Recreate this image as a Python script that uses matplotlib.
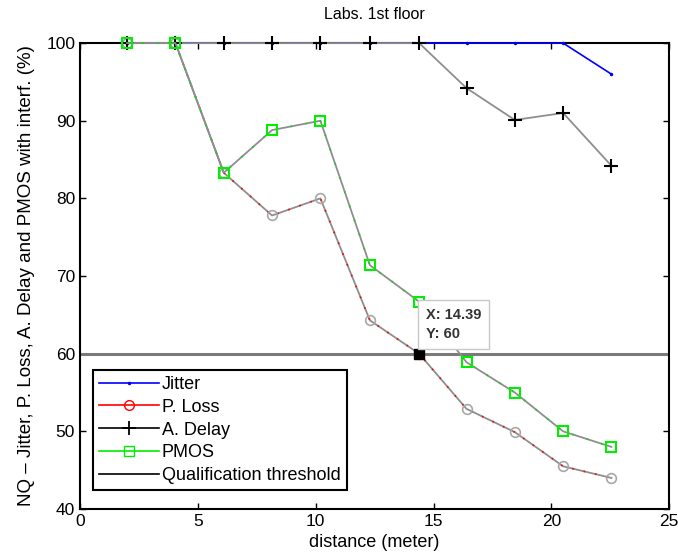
import matplotlib.pyplot as plt
from matplotlib.lines import Line2D

plt.rcParams.update({
    'font.family': ['Liberation Sans', 'DejaVu Sans'],
    'xtick.direction': 'in',
    'ytick.direction': 'in',
    'xtick.top': True,
    'ytick.right': True,
})

distance = [2.0, 4.05, 6.1, 8.15, 10.2, 12.3, 14.39, 16.4, 18.45, 20.5, 22.55]
jitter   = [100, 100, 100, 100, 100, 100, 100, 100, 100, 100, 96.0]
p_loss   = [100, 100, 83.3, 77.8, 80.0, 64.3, 60.0, 52.9, 49.9, 45.5, 44.0]
a_delay  = [100, 100, 100, 100, 100, 100, 100, 94.2, 90.1, 91.0, 84.2]
pmos     = [100, 100, 83.3, 88.8, 90.0, 71.4, 66.7, 58.9, 55.0, 50.0, 48.0]
threshold = 60
tip_x, tip_y = 14.39, 60

fig = plt.figure(figsize=(6.78, 5.56), dpi=100)
ax = fig.add_axes([0.118, 0.0845, 0.869, 0.838])

GREY = '#8e8e8e'
kw = dict(clip_on=False)

# jitter
ax.plot(distance, jitter, color='blue', lw=1.2, marker='.', markersize=3, zorder=3, **kw)
# packet loss: grey line with sparse red dots
ax.plot(distance, p_loss, color=GREY, lw=1.3, zorder=3, **kw)
ax.plot(distance, p_loss, color='red', lw=1.2, linestyle=(0, (1, 6)), zorder=3, **kw)
ax.plot(distance, p_loss, linestyle='none', marker='o', markersize=7,
        mfc='none', mec='#a8a8a8', mew=1.2, zorder=4, **kw)
# average delay
ax.plot(distance, a_delay, color=GREY, lw=1.3, zorder=4, **kw)
ax.plot(distance, a_delay, linestyle='none', marker='+', markersize=10,
        mec='black', mew=1.5, zorder=5, **kw)
# pmos
ax.plot(distance, pmos, color=GREY, lw=1.3, zorder=5, **kw)
ax.plot(distance, pmos, color='#00dd00', lw=1.2, linestyle=(0, (1, 8)), zorder=5, **kw)
ax.plot(distance, pmos, linestyle='none', marker='s', markersize=7,
        mfc='none', mec='#00ee00', mew=1.5, zorder=6, **kw)

ax.axhline(threshold, color='#7a7a7a', lw=2.2, zorder=2)

# data tip
ax.plot([tip_x], [tip_y], marker='s', markersize=7, color='black', zorder=8)
ax.annotate(f'X: {tip_x}\nY: {tip_y}', xy=(tip_x, tip_y), xytext=(5, 9),
            textcoords='offset points', ha='left', va='bottom', fontsize=10.5,
            fontweight='bold', color='#333333', linespacing=1.45,
            bbox=dict(boxstyle='square,pad=0.55', fc='white', ec='#c8c8c8', lw=1),
            zorder=9)

ax.set_xlim(0, 25)
ax.set_ylim(40, 100)
ax.set_xticks([0, 5, 10, 15, 20, 25])
ax.set_yticks([40, 50, 60, 70, 80, 90, 100])
ax.tick_params(labelsize=12.5, length=4, width=1)
for s in ax.spines.values():
    s.set_linewidth(1.5)

ax.set_title('Labs. 1st floor', fontsize=11.5, pad=17)
ax.set_xlabel('distance (meter)', fontsize=13, labelpad=4)
ax.set_ylabel('NQ \u2013 Jitter, P. Loss, A. Delay and PMOS with interf. (%)',
              fontsize=13.5, labelpad=8)

handles = [
    Line2D([0], [0], color='blue', lw=1.2, marker='.', markersize=3),
    Line2D([0], [0], color='red', lw=1.2, marker='o', mfc='none', mec='red', markersize=7),
    Line2D([0], [0], color='black', lw=1.2, marker='+', markersize=10, mew=1.3),
    Line2D([0], [0], color='#00ee00', lw=1.2, marker='s', mfc='none', mec='#00ee00', markersize=7),
    Line2D([0], [0], color='black', lw=1.2),
]
labels = ['Jitter', 'P. Loss', 'A. Delay', 'PMOS', 'Qualification threshold']
leg = ax.legend(handles, labels, loc='lower left', bbox_to_anchor=(0.022, 0.04),
                fontsize=13, handlelength=3.3, handletextpad=0.15,
                labelspacing=0.32, borderpad=0.35, borderaxespad=0,
                fancybox=False, framealpha=1, edgecolor='black')
leg.get_frame().set_linewidth(1.5)
leg.set_zorder(10)

fig.savefig('out.png', dpi=100)
